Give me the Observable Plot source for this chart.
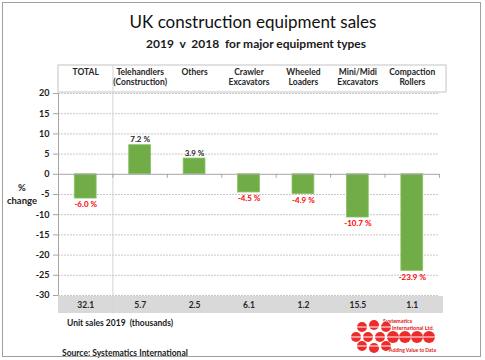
<!DOCTYPE html>
<html>
<head>
<meta charset="utf-8">
<script src="https://cdn.jsdelivr.net/npm/d3@7"></script>
<script src="https://cdn.jsdelivr.net/npm/@observablehq/plot@0.6"></script>
<style>
  html, body { margin: 0; padding: 0; background: #fff; }
  #wrap { position: relative; width: 485px; height: 360px; overflow: hidden; font-family: Lato, "Open Sans", sans-serif; color: #1a1a1a; }
  .abs { position: absolute; white-space: nowrap; }
  #border { position: absolute; left: 2px; top: 2px; width: 479px; height: 355px; border: 1px solid #a0a0a0; box-sizing: border-box; }
  #chart { position: absolute; left: 0; top: 0; }
</style>
</head>
<body>
<div id="wrap">
  <div class="abs" style="left:0;width:506px;top:12px;text-align:center;font-size:17px;line-height:20px;color:#111;">UK construction equipment sales</div>
  <div class="abs" style="left:0;width:512px;top:37px;text-align:center;font-size:12px;line-height:14px;font-weight:bold;">2019&nbsp; v&nbsp; 2018&nbsp; for major equipment types</div>
  <div class="abs" style="left:0;width:44px;top:181px;text-align:center;font-size:9.5px;line-height:13px;font-weight:bold;">%<br>change</div>
  <div class="abs" style="left:67px;top:317px;font-size:8.5px;line-height:12px;font-weight:bold;">Unit sales 2019&nbsp; (thousands)</div>
  <div class="abs" style="left:62px;top:347px;font-size:8.5px;line-height:12px;font-weight:bold;">Source: Systematics International</div>
  <div id="chart"></div>
  <svg class="abs" style="left:340px;top:315px" width="110" height="40" viewBox="0 0 110 40">
    <g fill="#ee2b2b">
      <circle cx="22" cy="12" r="5"/><circle cx="34" cy="10" r="5"/><circle cx="46" cy="12" r="5"/>
      <circle cx="16" cy="22" r="5"/><circle cx="28" cy="22" r="5"/><circle cx="40" cy="22" r="5"/>
      <circle cx="53" cy="22" r="6"/><circle cx="65" cy="22" r="6"/><circle cx="77" cy="22" r="6"/><circle cx="89" cy="22" r="6"/>
      <circle cx="22" cy="31" r="5"/><circle cx="34" cy="33" r="5"/><circle cx="46" cy="31" r="5"/>
    </g>
    <g stroke="#fff" stroke-width="1">
      <line x1="10" y1="12" x2="52" y2="12"/><line x1="10" y1="22" x2="96" y2="22"/><line x1="10" y1="31" x2="52" y2="31"/>
    </g>
    <text x="43" y="8" font-size="5.5" font-weight="bold" fill="#e02020" font-family="Lato">Systematics</text>
    <text x="52" y="15" font-size="5.5" font-weight="bold" fill="#e02020" font-family="Lato">International Ltd.</text>
    <text x="49" y="37" font-size="5" font-weight="bold" fill="#e02020" font-family="Lato">Adding Value to Data</text>
  </svg>
  <div id="border"></div>
</div>
<script>
const categories = ["TOTAL", "Telehandlers\n(Construction)", "Others", "Crawler\nExcavators", "Wheeled\nLoaders", "Mini/Midi\nExcavators", "Compaction\nRollers"];
const changes = [-6.0, 7.2, 3.9, -4.5, -4.9, -10.7, -23.9];
const unitSales = ["32.1", "5.7", "2.5", "6.1", "1.2", "15.5", "1.1"];
const yTicks = [20, 15, 10, 5, 0, -5, -10, -15, -20, -25, -30];

const data = categories.map((c, i) => ({
  i, category: c, change: changes[i], sales: unitSales[i],
  label: changes[i].toFixed(1) + " %"
}));
const pos = data.filter(d => d.change > 0);
const neg = data.filter(d => d.change <= 0);
const boundaries = d3.range(1, categories.length + 1);

const chart = Plot.plot({
  width: 485,
  height: 360,
  marginLeft: 58,
  marginRight: 46,
  marginTop: 93,
  marginBottom: 65,
  style: { background: "transparent", fontFamily: "Lato, 'Open Sans', sans-serif", color: "#1a1a1a", overflow: "visible" },
  x: { type: "linear", domain: [0, categories.length], axis: null },
  y: { domain: [-30, 20], axis: null },
  marks: [
    // header box
    Plot.rect([0], { x1: 0, x2: categories.length, y1: 20, y2: 20, insetTop: -28, insetBottom: 1, insetRight: -7, fill: "none", stroke: "#c4c4c4" }),
    // unit sales band
    Plot.rect([0], { x1: 0, x2: categories.length, y1: -30, y2: -30, insetTop: 1, insetBottom: -18, insetRight: -4, fill: "#d9d9d9" }),
    // grid
    Plot.ruleY(yTicks.filter(d => d !== 0), { stroke: "#c8c8c8", strokeDasharray: "2,1" }),
    // separator after TOTAL
    Plot.ruleX([1], { stroke: "#d4d4d4", insetTop: -28, insetBottom: -18 }),
    // y axis line
    Plot.ruleX([0], { stroke: "#a6a6a6" }),
    Plot.axisY({ ticks: yTicks, tickSize: 5, tickPadding: 4, stroke: "#a6a6a6", fontWeight: "bold", fontSize: 9, label: null, tickFormat: d => d < 0 ? "-" + Math.abs(d) : String(d) }),
    // bars
    Plot.rectY(data, { x1: "i", x2: d => d.i + 1, y: "change", fill: "#70ad47", stroke: "#8cc065", strokeWidth: 0.8, insetLeft: 16.3, insetRight: 16.3 }),
    // zero line
    Plot.ruleY([0], { stroke: "#a6a6a6" }),
    Plot.ruleX(boundaries, { y1: 0, y2: 0, insetBottom: -4, stroke: "#a6a6a6" }),
    // value labels
    Plot.text(pos, { x: d => d.i + 0.5, y: "change", text: "label", lineAnchor: "bottom", dy: -3, fontSize: 8, fontWeight: "bold", fill: "#262626" }),
    Plot.text(neg, { x: d => d.i + 0.5, y: "change", text: "label", lineAnchor: "top", dy: 3, fontSize: 8, fontWeight: "bold", fill: "#ff0000" }),
    // header labels
    Plot.text(data, { x: d => d.i + 0.5, y: 20, text: "category", lineAnchor: "top", dy: -26, lineHeight: 1.2, fontSize: 8.5, fontWeight: "bold", fill: "#262626" }),
    // unit sales values
    Plot.text(data, { x: d => d.i + 0.5, y: -30, text: "sales", dy: 10, fontSize: 8.5, fontWeight: "bold", fill: "#262626" })
  ]
});
document.getElementById("chart").appendChild(chart);
</script>
</body>
</html>
